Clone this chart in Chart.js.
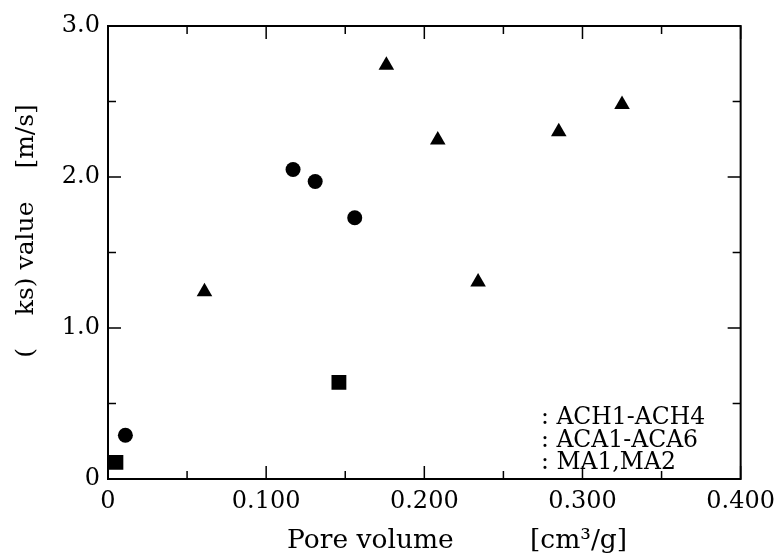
<!DOCTYPE html>
<html>
<head>
<meta charset="utf-8">
<script src="https://cdn.jsdelivr.net/npm/chart.js@4.4.1/dist/chart.umd.min.js"></script>
<style>
  body { margin: 0; background: #fff; }
  #wrap { width: 783px; height: 557px; }
</style>
</head>
<body>
<div id="wrap"><canvas id="scatterChart" width="783" height="557"></canvas></div>
<script>
// ACH1-ACH4 (circles)
const achX = [0.011, 0.117, 0.131, 0.156];
const achY = [0.29, 2.05, 1.97, 1.73];
// ACA1-ACA6 (triangles)
const acaX = [0.061, 0.176, 0.2085, 0.234, 0.285, 0.325];
const acaY = [1.24, 2.74, 2.245, 1.305, 2.30, 2.48];
// MA1,MA2 (squares)
const maX = [0.005, 0.146];
const maY = [0.11, 0.64];

const seriesLabels = ["ACH1-ACH4", "ACA1-ACA6", "MA1,MA2"];
const xTitleName = "Pore volume";
const xTitleUnit = "[cm\u00b3/g]";
const yTitle = "(\u2003 ks) value\u2003 [m/s]";

const serif = '"DejaVu Serif", "Liberation Serif", serif';

function toPoints(xs, ys) {
    return xs.map((x, i) => ({ x: x, y: ys[i] }));
}

function isMajor(v, step) {
    const k = v / step;
    return Math.abs(k - Math.round(k)) < 1e-6;
}

// frame, inward ticks, axis titles and the text-only legend
const frameAndText = {
    id: 'frameAndText',
    afterDraw(chart) {
        const ctx = chart.ctx;
        const a = chart.chartArea;
        const xs = chart.scales.x;
        const ys = chart.scales.y;
        ctx.save();
        ctx.strokeStyle = '#000';
        ctx.lineWidth = 1.5;
        xs.ticks.forEach(t => {
            const px = xs.getPixelForValue(t.value);
            const len = isMajor(t.value, 0.1) ? 13 : 8;
            ctx.beginPath();
            ctx.moveTo(px, a.bottom); ctx.lineTo(px, a.bottom - len);
            ctx.moveTo(px, a.top); ctx.lineTo(px, a.top + len);
            ctx.stroke();
        });
        ys.ticks.forEach(t => {
            const py = ys.getPixelForValue(t.value);
            const len = isMajor(t.value, 1) ? 13 : 8;
            ctx.beginPath();
            ctx.moveTo(a.left, py); ctx.lineTo(a.left + len, py);
            ctx.moveTo(a.right, py); ctx.lineTo(a.right - len, py);
            ctx.stroke();
        });
        ctx.lineWidth = 2;
        ctx.strokeRect(a.left, a.top, a.right - a.left, a.bottom - a.top);

        ctx.fillStyle = '#000';
        ctx.font = '26.5px ' + serif;
        ctx.textAlign = 'left';
        ctx.textBaseline = 'middle';
        ctx.fillText(xTitleName, 287, 541);
        ctx.fillText(xTitleUnit, 530, 541);

        ctx.font = '25px ' + serif;
        ctx.textAlign = 'center';
        ctx.save();
        ctx.translate(26, 231);
        ctx.rotate(-Math.PI / 2);
        ctx.fillText(yTitle, 0, 0);
        ctx.restore();

        ctx.font = '23.5px ' + serif;
        ctx.textAlign = 'left';
        chart.data.datasets.forEach((ds, i) => {
            ctx.fillText(': ' + ds.label, 541, 418 + i * 22.5);
        });
        ctx.restore();
    }
};

const ctx = document.getElementById('scatterChart').getContext('2d');
new Chart(ctx, {
    type: 'scatter',
    data: {
        datasets: [{
            label: seriesLabels[0],
            data: toPoints(achX, achY),
            pointStyle: 'circle',
            pointRadius: 7.5,
            backgroundColor: '#000',
            borderWidth: 0
        }, {
            label: seriesLabels[1],
            data: toPoints(acaX, acaY),
            pointStyle: 'triangle',
            pointRadius: 9,
            backgroundColor: '#000',
            borderWidth: 0
        }, {
            label: seriesLabels[2],
            data: toPoints(maX, maY),
            pointStyle: 'rect',
            pointRadius: 10.5,
            backgroundColor: '#000',
            borderWidth: 0
        }]
    },
    options: {
        responsive: false,
        animation: false,
        layout: { padding: { top: 26, right: 38, left: 0, bottom: 0 } },
        plugins: {
            legend: { display: false },
            tooltip: { enabled: false }
        },
        scales: {
            x: {
                type: 'linear',
                min: 0,
                max: 0.4,
                grid: { display: false, drawTicks: false },
                border: { display: false },
                ticks: {
                    stepSize: 0.05,
                    autoSkip: false,
                    maxRotation: 0,
                    padding: 8,
                    color: '#000',
                    font: { family: serif, size: 24 },
                    callback: v => isMajor(v, 0.1) ? (Math.abs(v) < 1e-9 ? '0' : v.toFixed(3)) : ''
                },
                afterFit: s => { s.height = 78; }
            },
            y: {
                type: 'linear',
                min: 0,
                max: 3,
                grid: { display: false, drawTicks: false },
                border: { display: false },
                ticks: {
                    stepSize: 0.5,
                    autoSkip: false,
                    padding: 8,
                    color: '#000',
                    font: { family: serif, size: 24 },
                    callback: v => isMajor(v, 1) ? (Math.abs(v) < 1e-9 ? '0' : v.toFixed(1)) : ''
                },
                afterFit: s => { s.width = 108; }
            }
        }
    },
    plugins: [frameAndText]
});
</script>
</body>
</html>
